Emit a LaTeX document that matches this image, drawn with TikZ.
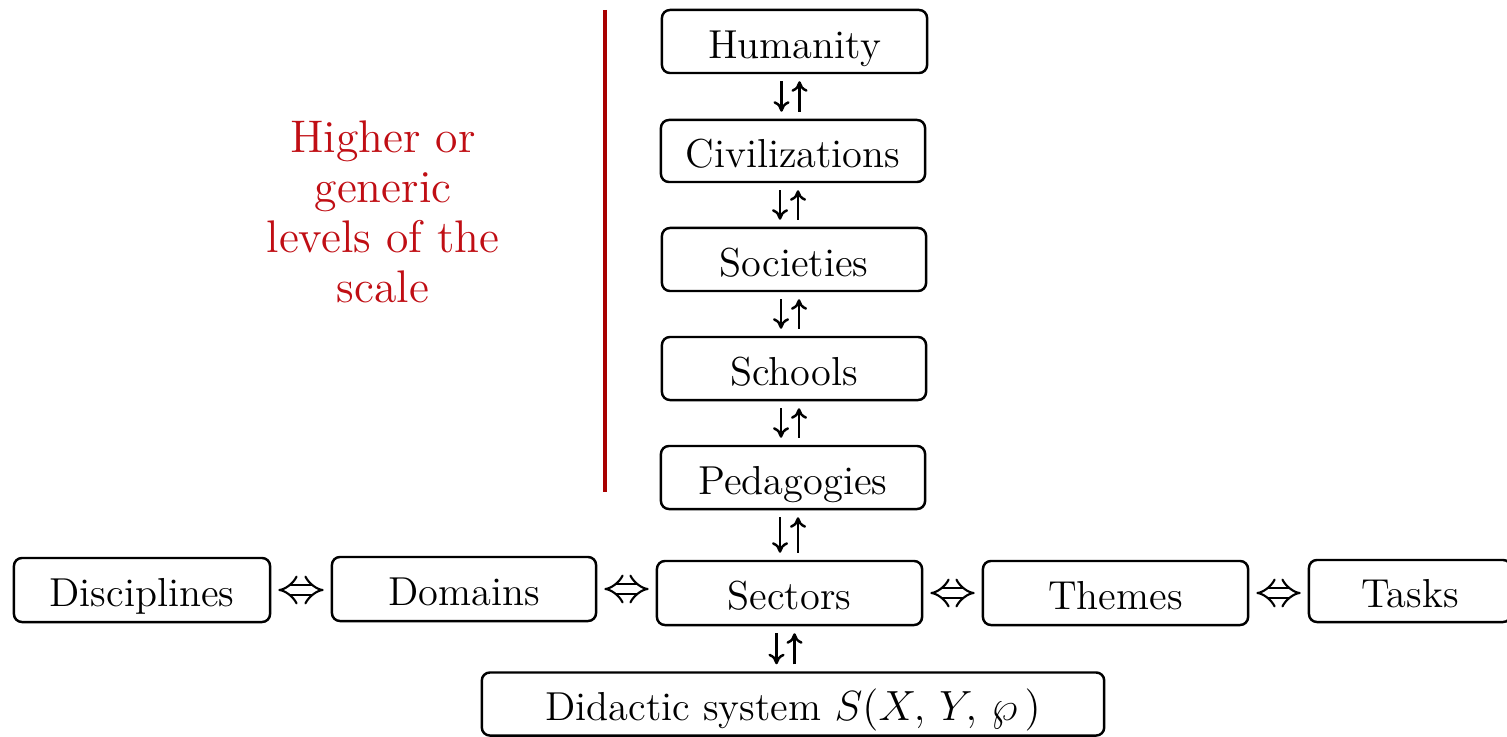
\documentclass[tikz,border=0pt]{standalone}
\usetikzlibrary{arrows.meta,calc}
\definecolor{hired}{RGB}{192,14,20}
\definecolor{linered}{RGB}{168,0,0}
\tikzset{
  lvl/.style={draw, rounded corners=0.08cm, line width=0.7pt, inner sep=0pt,
    text height=11pt, text depth=1.4pt, font=\fontsize{11.5}{13}\selectfont},
  updown/.style={line width=0.7pt, -{To[length=3pt,width=4.6pt]}},
  eqv/.style={double, double distance=0.08cm, line width=0.6pt, {Implies[scale=1.3]}-{Implies[scale=1.3]},
    shorten <=0.07cm, shorten >=0.07cm},
}
\begin{document}
\begin{tikzpicture}[x=0.01cm,y=-0.01cm]
\useasboundingbox (0,0) rectangle (1507,737);
\node[lvl, minimum width=2.65cm, minimum height=0.63cm] (hum) at (794.5,41.5) {Humanity};
\node[lvl, minimum width=2.64cm, minimum height=0.62cm] (civ) at (793,151) {Civilizations};
\node[lvl, minimum width=2.64cm, minimum height=0.63cm] (soc) at (794,259.5) {Societies};
\node[lvl, minimum width=2.64cm, minimum height=0.63cm] (sch) at (794,368.5) {Schools};
\node[lvl, minimum width=2.64cm, minimum height=0.63cm] (ped) at (793,477.5) {Pedagogies};
\node[lvl, minimum width=2.65cm, minimum height=0.64cm] (sec) at (789.5,593) {Sectors};
\node[lvl, minimum width=2.56cm, minimum height=0.64cm] (dis) at (142,590) {Disciplines};
\node[lvl, minimum width=2.64cm, minimum height=0.64cm] (dom) at (464,589) {Domains};
\node[lvl, minimum width=2.65cm, minimum height=0.64cm] (the) at (1115.5,593) {Themes};
\node[lvl, minimum width=2.02cm, minimum height=0.62cm] (tas) at (1410,591) {Tasks};
\node[lvl, minimum width=6.22cm, minimum height=0.63cm] (did) at (793,704)
  {Didactic system $S(X,\,Y,\,\wp\,)$};

\foreach \a/\b in {hum/civ, civ/soc, soc/sch, sch/ped, ped/sec, sec/did} {
  \draw[updown] ($(\a.south)+(-13,7)$) -- ($(\a.south |- \b.north)+(-13,-7)$);
  \draw[updown] ($(\a.south |- \b.north)+(5,-7)$) -- ($(\a.south)+(5,7)$);
}
\foreach \a/\b in {dis/dom, dom/sec, sec/the, the/tas} {
  \draw[eqv] (\a.east) -- (\a.east -| \b.west);
}

\node[text=hired, align=center, font=\fontsize{13}{14.2}\selectfont] (lbl) at (383,212)
  {Higher or\\generic\\levels of the\\scale};
\coordinate (rt) at (605,10);
\coordinate (rb) at (605,492);
\draw[linered, line width=1.2pt] (rt) -- (rb);
\end{tikzpicture}
\end{document}
